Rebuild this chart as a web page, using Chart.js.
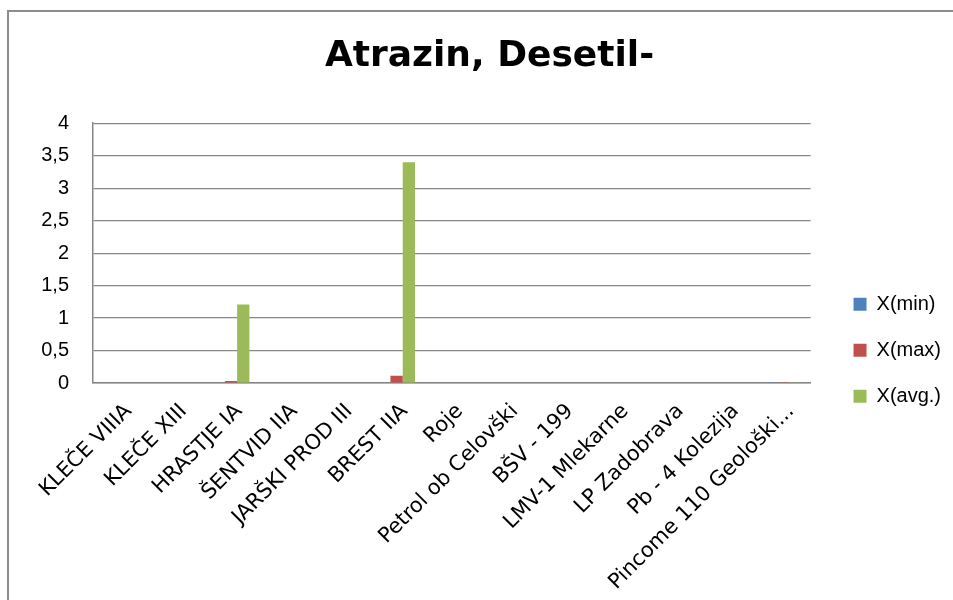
<!DOCTYPE html>
<html>
<head>
<meta charset="utf-8">
<script src="https://cdn.jsdelivr.net/npm/chart.js@4.4.1/dist/chart.umd.min.js"></script>
<style>
  html, body { margin: 0; padding: 0; background: #fff; overflow: hidden; }
  #wrap { position: relative; width: 953px; height: 600px; }
  #frame {
    position: absolute; left: 7px; top: 10px; width: 1000px; height: 1000px;
    border-left: 2px solid #8c8c8c; border-top: 2px solid #8c8c8c;
  }
  #chart { position: absolute; left: 0; top: 0; }
</style>
</head>
<body>
<div id="wrap">
  <div id="frame"></div>
  <canvas id="chart" width="953" height="600"></canvas>
</div>
<script>
const titleText = "Atrazin, Desetil-";

const categories = [
  "KLEČE VIIIA", "KLEČE XIII", "HRASTJE IA", "ŠENTVID IIA", "JARŠKI PROD III",
  "BREST IIA", "Roje", "Petrol ob Celovški", "BŠV - 199", "LMV-1 Mlekarne",
  "LP Zadobrava", "Pb - 4 Kolezija", "Pincome 110 Geološki..."
];

// values
const xMin = [0, 0, 0, 0, 0, 0, 0, 0, 0, 0, 0, 0, 0.01];
const xMax = [0, 0, 0.03, 0, 0, 0.11, 0, 0, 0, 0, 0, 0, 0.01];
const xAvg = [0, 0, 1.21, 0, 0, 3.4, 0, 0, 0, 0, 0, 0, 0.01];

const seriesNames = ["X(min)", "X(max)", "X(avg.)"];
const seriesColors = ["#4f81bd", "#c0504d", "#9bbb59"];

const yMax = 4;
const yStep = 0.5;

const gridColor = "#868686";
const font = "'Liberation Sans', Arial, sans-serif";
const wideFont = "'DejaVu Sans', sans-serif";

const ctx = document.getElementById("chart").getContext("2d");

new Chart(ctx, {
  type: "bar",
  data: {
    labels: categories,
    datasets: [xMin, xMax, xAvg].map((vals, i) => ({
      label: seriesNames[i],
      data: vals,
      backgroundColor: seriesColors[i],
      borderWidth: 0,
      categoryPercentage: 0.667,
      barPercentage: 1,
    })),
  },
  options: {
    responsive: false,
    animation: false,
    layout: { padding: { top: 0, right: 2, bottom: 0, left: 28 } },
    plugins: {
      title: {
        display: true,
        text: titleText,
        color: "#000",
        font: { family: wideFont, size: 36, weight: "bold", lineHeight: 1.2 },
        padding: { top: 35, bottom: 45 },
      },
      legend: {
        position: "right",
        title: { display: true, text: " ", font: { size: 12 }, padding: { top: 86, bottom: 0 } },
        labels: {
          color: "#000",
          font: { family: font, size: 20 },
          boxWidth: 13,
          boxHeight: 13,
          padding: 26,
        },
      },
      tooltip: { enabled: false },
    },
    scales: {
      x: {
        grid: { display: false, drawTicks: false },
        border: { color: gridColor, width: 1.5 },
        ticks: {
          color: "#000",
          font: { family: wideFont, size: 21 },
          minRotation: 45,
          maxRotation: 45,
          autoSkip: false,
          padding: 16,
          labelOffset: 8,
        },
        afterFit: (scale) => { scale.height = 217; },
      },
      y: {
        min: 0,
        max: yMax,
        grid: { color: gridColor, lineWidth: 1.2, drawTicks: false },
        border: { color: gridColor, width: 1.5 },
        ticks: {
          stepSize: yStep,
          color: "#000",
          font: { family: font, size: 20 },
          padding: 24,
          callback: (v) => String(v).replace(".", ","),
        },
        afterFit: (scale) => { scale.width = 65; },
      },
      // empty right axis only to leave a gap before the legend
      gap: {
        position: "right",
        display: true,
        grid: { display: false, drawTicks: false },
        border: { display: false },
        ticks: { display: false },
        afterFit: (scale) => { scale.width = 17; },
      },
    },
  },
});
</script>
</body>
</html>
